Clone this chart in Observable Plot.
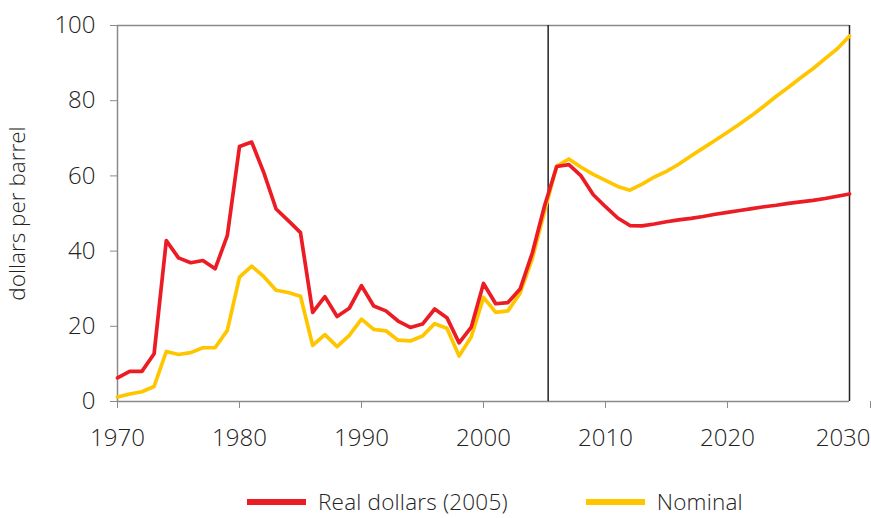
<!DOCTYPE html>
<html><head><meta charset="utf-8">
<script src="https://cdn.jsdelivr.net/npm/d3@7"></script>
<script src="https://cdn.jsdelivr.net/npm/@observablehq/plot@0.6"></script>
<style>
body{margin:0;background:#fff;font-family:"Open Sans",sans-serif;font-weight:300;overflow:hidden;}
#chart{position:absolute;left:0;top:0;}
#legend{position:absolute;left:247px;top:490px;height:24px;line-height:24px;display:flex;align-items:center;font-size:22.5px;color:#222;white-space:nowrap;letter-spacing:0.2px;}
.sw{display:inline-block;width:59px;height:6px;margin-right:12px;}
.item{display:flex;align-items:center;line-height:24px;}
</style></head><body>
<div id="chart"></div>
<div id="legend"></div>
<script>
const years = [1970,1971,1972,1973,1974,1975,1976,1977,1978,1979,1980,1981,1982,1983,1984,1985,1986,1987,1988,1989,
  1990,1991,1992,1993,1994,1995,1996,1997,1998,1999,2000,2001,2002,2003,2004,2005,2006,2007,2008,2009,
  2010,2011,2012,2013,2014,2015,2016,2017,2018,2019,2020,2021,2022,2023,2024,2025,2026,2027,2028,2029,2030];
const realDollars = [6.3,8.0,8.0,12.7,42.8,38.2,36.9,37.5,35.3,44.1,67.8,69.0,60.8,51.2,48.1,44.9,23.7,27.9,22.6,24.8,
  30.8,25.4,24.1,21.4,19.7,20.6,24.6,22.3,15.6,19.8,31.4,26.0,26.3,29.9,39.5,52.0,62.5,63.0,60.0,55.0,
  51.8,48.8,46.8,46.7,47.2,47.8,48.3,48.7,49.2,49.8,50.3,50.8,51.3,51.8,52.2,52.7,53.1,53.5,54.0,54.6,55.2];
const nominal = [1.2,2.0,2.6,4.0,13.3,12.5,13.0,14.3,14.3,18.9,33.1,36.0,33.2,29.6,29.0,28.0,14.9,17.8,14.6,17.6,
  21.9,19.2,18.8,16.3,16.1,17.4,20.7,19.5,12.1,17.2,27.7,23.7,24.1,28.8,38.0,50.5,62.6,64.5,62.3,60.4,
  58.8,57.2,56.2,57.8,59.7,61.2,63.1,65.3,67.4,69.5,71.6,73.8,76.1,78.6,81.2,83.6,86.1,88.5,91.2,93.8,97.2];
const xTicks = [1970,1980,1990,2000,2010,2020];
const xLastTick = [2030];
const yTicks = [0,20,40,60,80,100];
const historyEnd = 2005.3;
const seriesNames = ["Real dollars (2005)","Nominal"];
const seriesColors = ["#ec1c24","#ffc600"];
const yLabel = "dollars per barrel";

const rows = years.map((y,i)=>({year:y, real:realDollars[i], nominal:nominal[i]}));
const font = '"Open Sans",sans-serif';
const axisStyle = {tickSize: 7, fontSize: 24, label: null, stroke: "#8a8a8a", fill: "#222", fontWeight: 300};

const chart = Plot.plot({
  width: 871, height: 470,
  marginLeft: 117, marginRight: 22, marginTop: 25, marginBottom: 69,
  style: {fontFamily: font, background: "#fff", color: "#222", fontWeight: 300},
  x: {domain: [1970, 2030]},
  y: {domain: [0, 100]},
  marks: [
    Plot.ruleY([100], {stroke: "#8a8a8a", strokeWidth: 1.5}),
    Plot.ruleY([0], {stroke: "#8a8a8a", strokeWidth: 1.5}),
    Plot.ruleX([1970], {stroke: "#8a8a8a", strokeWidth: 1.5}),
    Plot.ruleX([2030], {stroke: "#222", strokeWidth: 1.5}),
    Plot.ruleX([historyEnd], {stroke: "#222", strokeWidth: 1.5}),
    Plot.axisY({...axisStyle, ticks: yTicks, tickPadding: 15}),
    Plot.axisX({...axisStyle, ticks: xTicks, tickFormat: "d", tickPadding: 20}),
    Plot.axisX({...axisStyle, ticks: xLastTick, tickFormat: "d", tickPadding: 20, textAnchor: "end", dx: 21}),
    Plot.text([yLabel], {frameAnchor: "left", textAnchor: "middle", dx: -100, rotate: -90, fontSize: 22.5, fill: "#222", fontWeight: 300}),
    Plot.line(rows, {x: "year", y: "nominal", stroke: seriesColors[1], strokeWidth: 3.7}),
    Plot.line(rows, {x: "year", y: "real", stroke: seriesColors[0], strokeWidth: 3.7})
  ]
});
document.getElementById("chart").appendChild(chart);

const legend = document.getElementById("legend");
seriesNames.forEach((name,i)=>{
  const item = document.createElement("span");
  item.className = "item";
  if (i > 0) item.style.marginLeft = "78px";
  const sw = document.createElement("span");
  sw.className = "sw";
  sw.style.background = seriesColors[i];
  const t = document.createElement("span");
  t.textContent = name;
  item.appendChild(sw); item.appendChild(t);
  legend.appendChild(item);
});
</script>
</body></html>
